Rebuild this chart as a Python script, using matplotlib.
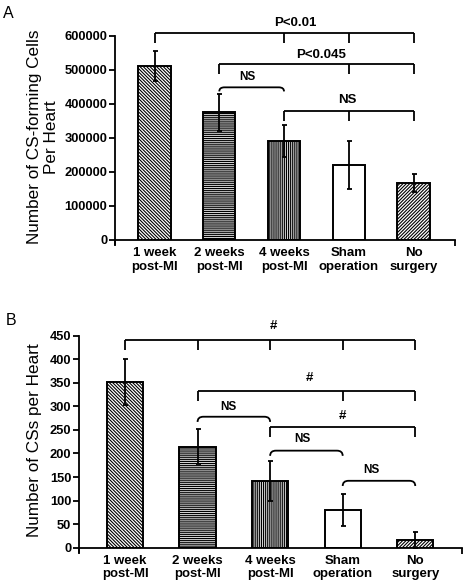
import numpy as np
import matplotlib
matplotlib.use("Agg")
import matplotlib.pyplot as plt
from matplotlib.path import Path
from matplotlib.patches import PathPatch

plt.rcParams['font.family'] = ['Liberation Sans', 'DejaVu Sans']
plt.rcParams['hatch.linewidth'] = 0.8

categories = ["1 week\npost-MI", "2 weeks\npost-MI", "4 weeks\npost-MI", "Sham\noperation", "No\nsurgery"]

# Panel A: CS-forming cells per heart
a_values = [512000, 375000, 290000, 220000, 168000]
a_errors = [45000, 53000, 47000, 70000, 26000]
a_yticks = [0, 100000, 200000, 300000, 400000, 500000, 600000]

# Panel B: CSs per heart
b_values = [352, 214, 142, 81, 16]
b_errors = [49, 37, 42, 34, 17]
b_yticks = [0, 50, 100, 150, 200, 250, 300, 350, 400, 450]

hatches = ['\\' * 10, '-' * 8, '|' * 8, '', '/' * 10]
faces = ['white', '#d8d8d8', '#d8d8d8', 'white', 'white']

# significance annotations: (tick positions, level, drop, label, label x, label y)
a_brackets = [([0, 2, 3, 4], 608000, 579000, "P<0.01", 2.17, 638000),
              ([1, 3, 4], 517000, 488000, "P<0.045", 2.57, 545000),
              ([2, 3, 4], 379000, 351000, "NS", 2.97, 412000)]
a_braces = [((1, 2), 449000, 437000, "NS", 1.44, 478000)]

b_brackets = [([0, 1, 2, 3, 4], 441, 419, "#", 2.04, 471),
              ([1, 3, 4], 333, 311, "#", 2.54, 360),
              ([2, 4], 256, 234, "#", 2.99, 280)]
b_braces = [((1, 2), 278, 267, "NS", 1.43, 299),
            ((2, 3), 206, 195, "NS", 2.44, 231),
            ((3, 4), 142, 131, "NS", 3.40, 165)]

W, H = 465, 588
fig = plt.figure(figsize=(W / 100, H / 100), dpi=100)


def draw_panel(rect, values, errors, yticks, ylabel, ylabel_xy, letter, letter_xy,
               brackets, braces, xlim, brace_dx):
    ax = fig.add_axes(rect)
    x = np.arange(len(values))
    for i in range(len(values)):
        ax.bar(x[i], values[i], width=0.5, color=faces[i], edgecolor='black',
               linewidth=1.4, hatch=hatches[i], zorder=2)
    ax.errorbar(x, values, yerr=errors, fmt='none', ecolor='black', elinewidth=1.3,
                capsize=1.8, capthick=1.3, zorder=3)
    ax.set_xlim(*xlim)
    ax.set_ylim(0, yticks[-1])
    ax.set_yticks(yticks)
    ax.set_yticklabels([str(t) for t in yticks], fontsize=9.3, fontweight='bold')
    ax.set_xticks(x)
    ax.set_xticklabels(categories, fontsize=9.5, fontweight='bold')
    ax.set_xticks([xlim[0], xlim[1]], minor=True)
    ax.tick_params(axis='x', which='major', length=0, pad=5)
    ax.tick_params(axis='x', which='minor', length=4, width=1.3, direction='out')
    ax.tick_params(axis='y', length=4, width=1.3, direction='out', pad=1.5)
    for s in ['top', 'right']:
        ax.spines[s].set_visible(False)
    for s in ['left', 'bottom']:
        ax.spines[s].set_linewidth(1.3)
    ax.spines['left'].set_bounds(-yticks[-1] * 0.02, yticks[-1])

    for ticks, lvl, low, lab, lx, ly in brackets:
        ax.plot([ticks[0], ticks[-1]], [lvl, lvl], color='black', lw=1.3,
                clip_on=False, solid_capstyle='butt')
        for t in ticks:
            ax.plot([t, t], [lvl, low], color='black', lw=1.3, clip_on=False,
                    solid_capstyle='butt')
        ax.text(lx, ly, lab, ha='center', va='center', fontsize=9.5,
                fontweight='bold', clip_on=False)
    for (i0, i1), lvl, low, lab, lx, ly in braces:
        verts = [(i0, low), (i0, lvl), (i0 + brace_dx, lvl), (i1 - brace_dx, lvl),
                 (i1, lvl), (i1, low)]
        codes = [Path.MOVETO, Path.CURVE3, Path.CURVE3, Path.LINETO,
                 Path.CURVE3, Path.CURVE3]
        ax.add_patch(PathPatch(Path(verts, codes), fill=False, lw=1.3,
                               edgecolor='black', clip_on=False))
        ax.text(lx, ly, lab, ha='center', va='center', fontsize=8.5,
                fontweight='bold', clip_on=False)

    fig.text(ylabel_xy[0], ylabel_xy[1], ylabel, rotation=90, ha='center',
             va='center', fontsize=12.3, linespacing=1.1, multialignment='center')
    fig.text(letter_xy[0], letter_xy[1], letter, ha='left', va='baseline',
             fontsize=11.5)
    return ax


draw_panel([115 / W, 1 - 240 / H, 340 / W, 204 / H], a_values, a_errors, a_yticks,
           "Number of CS-forming Cells\nPer Heart", (43 / W, 1 - 137 / H),
           "A", (3 / W, 1 - 18 / H), a_brackets, a_braces, (-0.61, 4.64), 0.08)

draw_panel([79 / W, 1 - 547.7 / H, 382.7 / W, 212 / H], b_values, b_errors, b_yticks,
           "Number of CSs per Heart", (34.5 / W, 1 - 440 / H),
           "B", (6 / W, 1 - 325 / H), b_brackets, b_braces, (-0.634, 4.64), 0.08)

fig.savefig("out.png", dpi=100)
